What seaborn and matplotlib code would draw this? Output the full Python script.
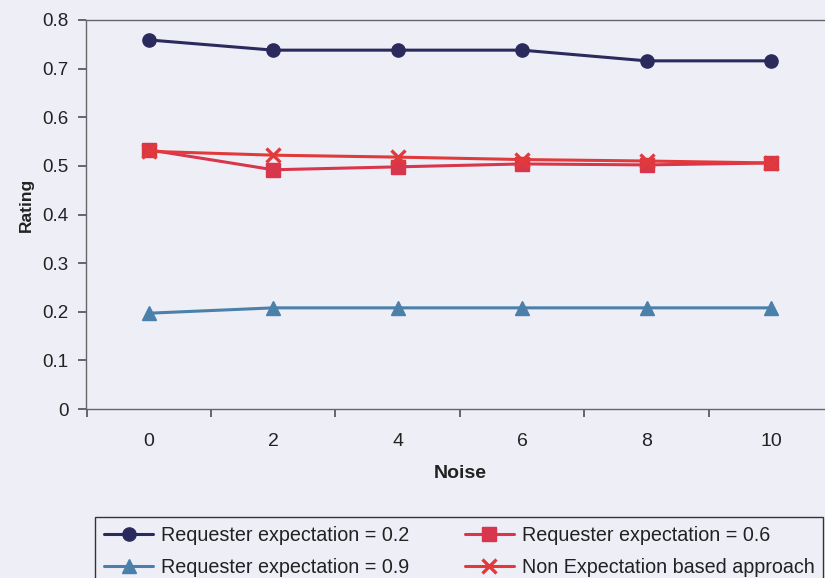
import numpy as np
import pandas as pd
import matplotlib
matplotlib.use("Agg")
import matplotlib.pyplot as plt
import seaborn as sns

noise = [0, 2, 4, 6, 8, 10]
exp_02 = [0.759, 0.738, 0.738, 0.738, 0.716, 0.716]
exp_06 = [0.533, 0.492, 0.498, 0.504, 0.502, 0.506]
exp_09 = [0.197, 0.208, 0.208, 0.208, 0.208, 0.208]
non_exp = [0.530, 0.522, 0.518, 0.513, 0.510, 0.506]
y_ticks = [0, 0.1, 0.2, 0.3, 0.4, 0.5, 0.6, 0.7, 0.8]
y_tick_labels = ["0", "0.1", "0.2", "0.3", "0.4", "0.5", "0.6", "0.7", "0.8"]

names = ["Requester expectation = 0.2", "Requester expectation = 0.6",
         "Requester expectation = 0.9", "Non Expectation based approach"]
series = [exp_02, exp_06, exp_09, non_exp]
colors = ["#2b2a5c", "#d8364c", "#4a80aa", "#e23a3a"]
markers = ["o", "s", "^", "x"]
msizes = [9.5, 10, 9.5, 10]

sns.set_theme(style="white")
plt.rcParams["font.family"] = ["Liberation Sans", "DejaVu Sans"]

bg = "#eeeef7"
W, H = 825, 578
fig = plt.figure(figsize=(8.25, 5.78), dpi=100, facecolor=bg)
ax = fig.add_axes([86/W, 1-409/H, 1.01-86/W, (409-20)/H])
ax.set_facecolor(bg)

for i in [0, 2, 1, 3]:
    df = pd.DataFrame({"Noise": noise, "Rating": series[i]})
    sns.lineplot(data=df, x="Noise", y="Rating", ax=ax, color=colors[i],
                 marker=markers[i], markersize=msizes[i], linewidth=2.2,
                 markeredgecolor=colors[i], markeredgewidth=2.4 if markers[i] == "x" else 1,
                 label=names[i], zorder=3 + i)

ax.set_xlim(-1.01, 11.0)
ax.set_ylim(0, 0.8)
ax.set_yticks(y_ticks)
ax.set_yticklabels(y_tick_labels, fontsize=13.5, color="#222222")
# unlabelled major ticks at category boundaries, labels on minor ticks
ax.set_xticks([-1, 1, 3, 5, 7, 9, 11])
ax.set_xticklabels([])
ax.set_xticks(noise, minor=True)
ax.set_xticklabels([str(v) for v in noise], minor=True, fontsize=14, color="#222222")
ax.tick_params(axis="x", which="major", length=6, color="#555555", direction="out", bottom=True)
ax.tick_params(axis="x", which="minor", length=0, pad=17, bottom=True)
ax.tick_params(axis="y", length=6, color="#555555", direction="out", pad=6.5, left=True)

ax.set_xlabel("Noise", fontsize=14, fontweight="bold", color="#222222")
ax.xaxis.set_label_coords((460-86)/(1.01*W-86), (409-474)/389)
ax.xaxis.label.set_va("center")
ax.set_ylabel("Rating", fontsize=12.5, fontweight="bold", color="#222222")
ax.yaxis.set_label_coords((26-86)/(1.01*W-86), (409-205)/389)
ax.yaxis.label.set_va("center")

for s in ["left", "bottom", "top"]:
    ax.spines[s].set_visible(True)
    ax.spines[s].set_color("#666666")
    ax.spines[s].set_linewidth(1.0)
ax.spines["right"].set_visible(False)
ax.grid(False)

h, l = ax.get_legend_handles_labels()
lookup = dict(zip(l, h))
leg_order = [names[0], names[2], names[1], names[3]]
ax.get_legend().remove()
leg = fig.legend([lookup[n] for n in leg_order], leg_order, ncol=2,
                 loc="upper left", bbox_to_anchor=(95/W, 1-517/H),
                 fontsize=14.2, frameon=True, fancybox=False,
                 edgecolor="#333333", facecolor=bg, framealpha=1,
                 handlelength=2.5, handletextpad=0.4, borderpad=0.45,
                 labelspacing=0.65, columnspacing=2.8, borderaxespad=0)
for t in leg.get_texts():
    t.set_color("#222222")
leg.get_frame().set_linewidth(1.0)

fig.savefig("out.png", dpi=100, facecolor=bg)
